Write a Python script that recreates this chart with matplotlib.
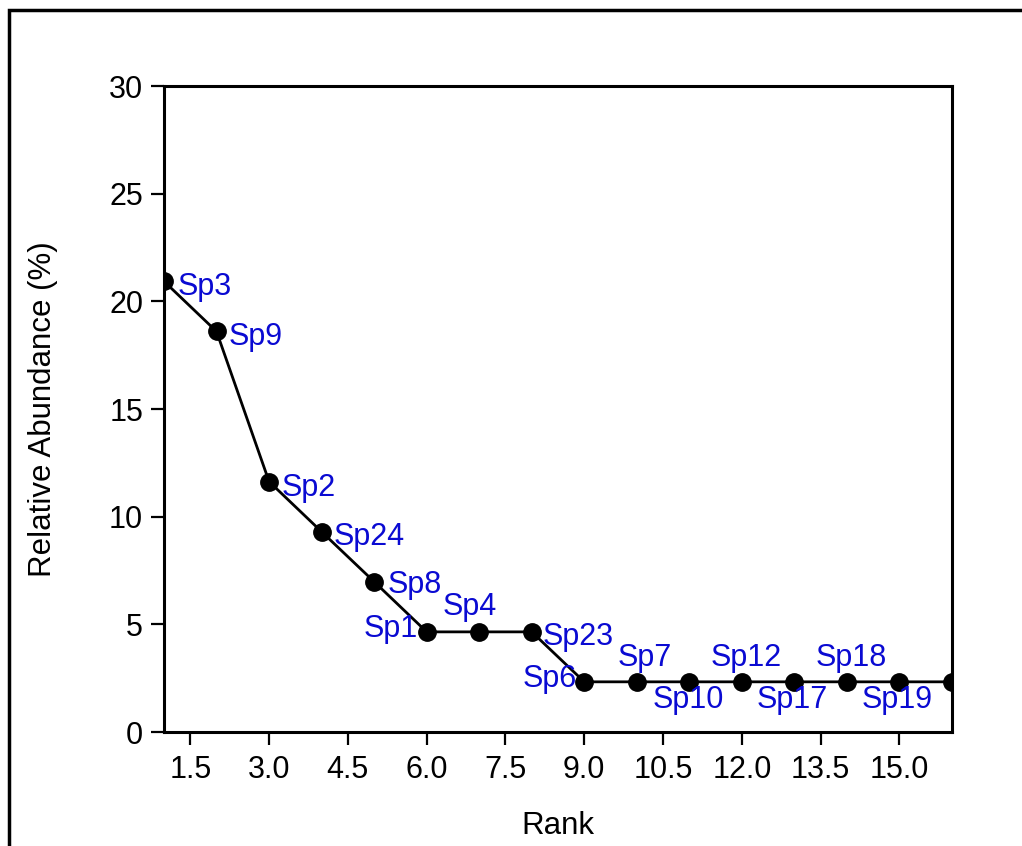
import matplotlib
matplotlib.use("Agg")
import matplotlib.pyplot as plt
from matplotlib.patches import Rectangle

plt.rcParams["font.family"] = ["Liberation Sans", "DejaVu Sans"]

# Rank-abundance data
ranks = list(range(1, 17))
abundance = [20.93, 18.60, 11.63, 9.30, 6.98, 4.65, 4.65, 4.65,
             2.33, 2.33, 2.33, 2.33, 2.33, 2.33, 2.33, 2.33]
species = ["Sp3", "Sp9", "Sp2", "Sp24", "Sp8", "Sp1", "Sp4", "Sp23",
           "Sp6", "Sp7", "Sp10", "Sp12", "Sp17", "Sp18", "Sp19"]
x_ticks = [1.5, 3.0, 4.5, 6.0, 7.5, 9.0, 10.5, 12.0, 13.5, 15.0]
y_ticks = [0, 5, 10, 15, 20, 25, 30]

# label placement: (dx, dy) in pixels from the point to the text baseline
label_place = [
    (14, -14, "left"), (12, -14, "left"), (13, -14, "left"), (12, -13, "left"),
    (13, -11, "left"), (-9, -5, "right"), (-9, 17, "center"), (11, -13, "left"),
    (-7, -5, "right"), (8, 16, "center"), (-1, -26, "center"), (4, 16, "center"),
    (-2, -26, "center"), (4, 16, "center"), (-2, -26, "center"),
]

W, H = 1022, 846
fig = plt.figure(figsize=(W / 100, H / 100), dpi=100)
ax = fig.add_axes([164 / W, 1 - 732 / H, (952 - 164) / W, (732 - 86) / H])

ax.plot(ranks, abundance, color="black", lw=2.0, marker="o",
        markersize=12.5, markerfacecolor="black", markeredgecolor="black")

px = 0.72  # points per pixel at 100 dpi
for x, y, name, (dx, dy, ha) in zip(ranks, abundance, species, label_place):
    ax.annotate(name, (x, y), xytext=(dx * px, dy * px), textcoords="offset points",
                ha=ha, va="baseline", color="#0A0AD2", fontsize=22)

ax.set_xlim(1, 16)
ax.set_ylim(0, 30)
ax.set_xticks(x_ticks)
ax.set_xticklabels([f"{t:.1f}" for t in x_ticks])
ax.set_yticks(y_ticks)
ax.tick_params(axis="both", direction="out", length=9.5, width=1.6,
               labelsize=22, color="black")
ax.tick_params(axis="x", pad=7)
ax.tick_params(axis="y", pad=5.5)
for s in ax.spines.values():
    s.set_linewidth(2.2)

ax.set_xlabel("Rank", fontsize=22.5, labelpad=19)
ax.set_ylabel("Relative Abundance (%)", fontsize=22.5, labelpad=37)

# outer frame around the figure
fig.patches.append(Rectangle((8.5 / W, -0.1), 1.2, 1.1 - 10 / H,
                             transform=fig.transFigure, fill=False,
                             edgecolor="black", linewidth=2.5))

fig.savefig("out.png", dpi=100)
